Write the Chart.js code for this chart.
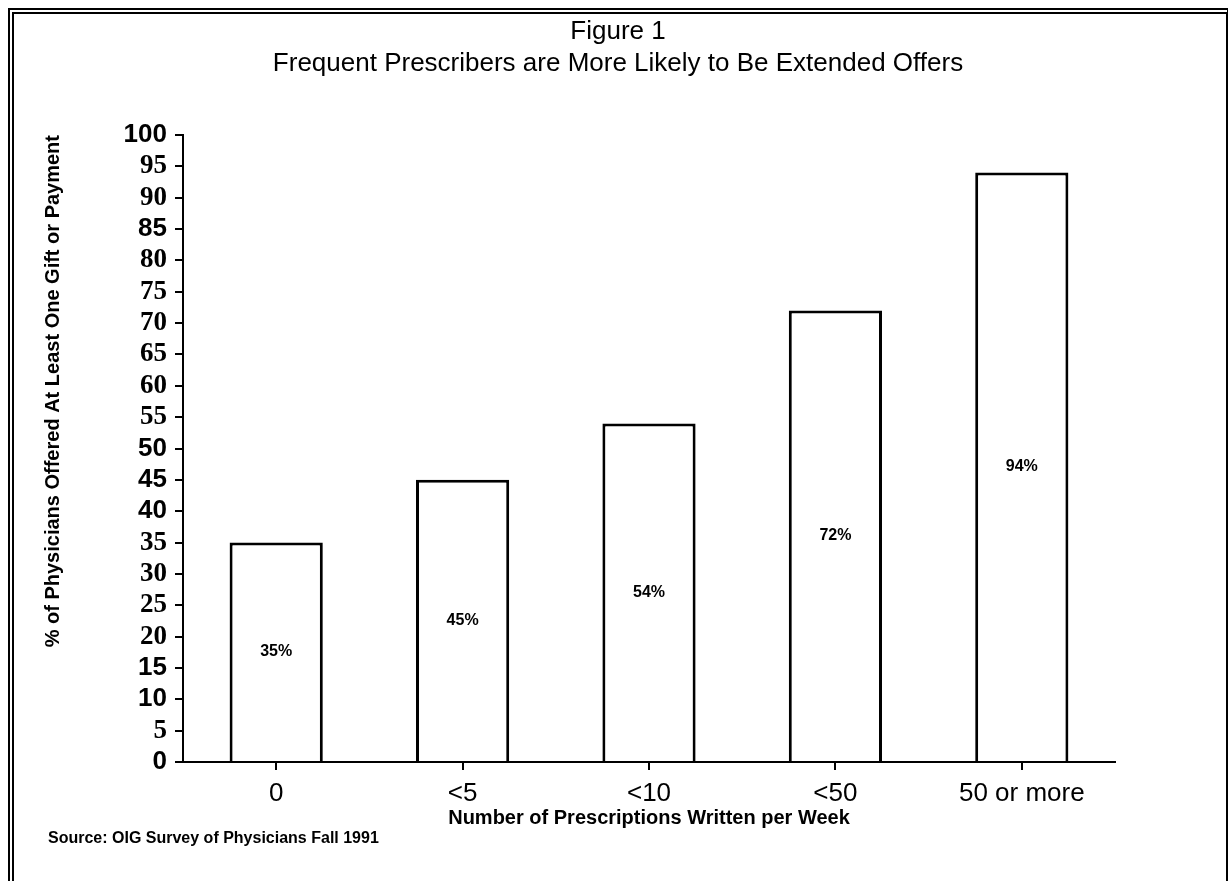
<!DOCTYPE html>
<html>
<head>
<meta charset="utf-8">
<title>Figure 1</title>
<script src="https://cdn.jsdelivr.net/npm/chart.js@4.4.1/dist/chart.umd.min.js"></script>
<style>
  html, body { margin: 0; padding: 0; background: #fff; }
  body { width: 1229px; height: 881px; position: relative; overflow: hidden; }
  #frame {
    position: absolute; left: 8px; top: 8px; width: 1212px; height: 900px;
    border-top: 6px double #000; border-left: 6px double #000; border-right: 2px solid #000;
  }
  #my-chart { position: absolute; left: 0; top: 0; }
  #source {
    position: absolute; left: 48px; top: 829px;
    font: bold 16px "Liberation Sans", Arial, sans-serif; line-height: 18px; color: #000;
  }
</style>
</head>
<body>
<div id="frame"></div>
<canvas id="my-chart" width="1229" height="881"></canvas>
<div id="source">Source: OIG Survey of Physicians Fall 1991</div>
<script>
const categories = ['0', '<5', '<10', '<50', '50 or more'];
const percentOffered = [35, 45, 54, 72, 94];
// tick labels that look like they were set in a serif face in the scan
const serifTicks = [95, 90, 80, 75, 70, 65, 60, 55, 35, 30, 25, 20, 5];

const sans = '"Liberation Sans", Arial, sans-serif';
const serif = '"Liberation Serif", "Times New Roman", serif';

// writes the % value in the middle of each bar
const barLabels = {
  id: 'barLabels',
  afterDatasetsDraw(chart) {
    const ctx = chart.ctx;
    const meta = chart.getDatasetMeta(0);
    ctx.save();
    ctx.font = 'bold 16px ' + sans;
    ctx.fillStyle = '#000';
    ctx.textAlign = 'center';
    ctx.textBaseline = 'middle';
    meta.data.forEach((bar, i) => {
      ctx.fillText(percentOffered[i] + '%', bar.x, (bar.y + bar.base) / 2);
    });
    ctx.restore();
  }
};

const ctx = document.getElementById('my-chart').getContext('2d');
const chart = new Chart(ctx, {
  type: 'bar',
  data: {
    labels: categories,
    datasets: [
      {
        label: '% offered',
        data: percentOffered,
        backgroundColor: '#fff',
        borderColor: '#000',
        borderWidth: 3,
        borderSkipped: 'bottom',
        barPercentage: 0.5,
        categoryPercentage: 1
      }
    ]
  },
  options: {
    responsive: false,
    animation: false,
    layout: { padding: { left: 10, right: 3, top: 0, bottom: 51 } },
    plugins: {
      legend: { display: false },
      tooltip: { enabled: false },
      title: {
        display: true,
        text: ['Figure 1', 'Frequent Prescribers are More Likely to Be Extended Offers'],
        color: '#000',
        font: { family: sans, size: 26, weight: 'normal', lineHeight: '32px' },
        padding: { top: 16, bottom: 55 }
      }
    },
    scales: {
      x: {
        grid: { offset: false, drawOnChartArea: false, drawTicks: true, tickLength: 8, color: '#000', lineWidth: 2 },
        border: { display: true, color: '#000', width: 2 },
        ticks: { color: '#000', padding: 8, font: { family: sans, size: 26 } },
        title: {
          display: true,
          text: 'Number of Prescriptions Written per Week',
          color: '#000',
          font: { family: sans, size: 20, weight: 'bold', lineHeight: '24px' },
          padding: 0
        },
        afterFit: scale => { scale.height = 68; }
      },
      y: {
        min: 0,
        max: 100,
        grid: { drawOnChartArea: false, drawTicks: true, tickLength: 8, color: '#000', lineWidth: 2 },
        border: { display: true, color: '#000', width: 2 },
        ticks: {
          stepSize: 5,
          autoSkip: false,
          color: '#000',
          padding: 8,
          font: c => serifTicks.includes(c.tick && c.tick.value)
            ? { family: serif, size: 27, weight: 'bold' }
            : { family: sans, size: 26, weight: 'bold' }
        },
        title: {
          display: true,
          text: '% of Physicians Offered At Least One Gift or Payment',
          align: 'end',
          color: '#000',
          font: { family: sans, size: 20, weight: 'bold', lineHeight: '24px' },
          padding: { top: 31, bottom: 0 }
        },
        afterFit: scale => { scale.width = 173; }
      },
      // empty right-hand axis so the plot stops where the original does
      spacer: {
        type: 'linear',
        position: 'right',
        display: true,
        grid: { drawOnChartArea: false, drawTicks: false },
        border: { display: false },
        ticks: { display: false },
        afterFit: scale => { scale.width = 111; }
      }
    }
  },
  plugins: [barLabels]
});
</script>
</body>
</html>
